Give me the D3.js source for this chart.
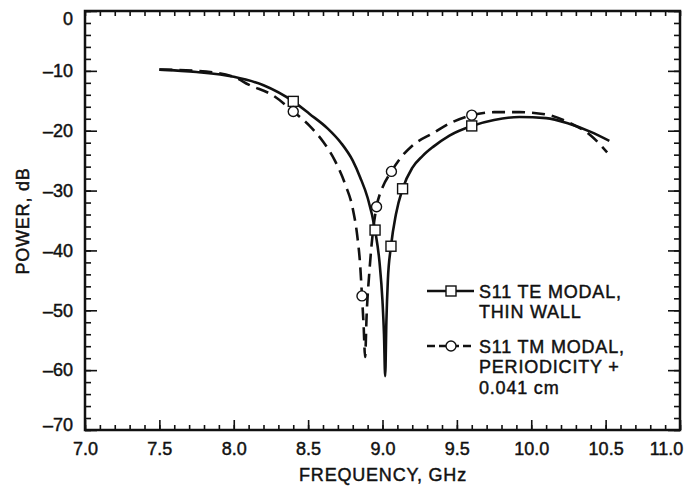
<!DOCTYPE html>
<html>
<head>
<meta charset="utf-8">
<script src="https://cdn.jsdelivr.net/npm/d3@7"></script>
<style>
  body { margin: 0; background: #fff; }
  svg { display: block; }
  text { font-family: "Liberation Sans", Arial, Helvetica, sans-serif; fill: #111; stroke: #111; stroke-width: 0.45px; }
</style>
</head>
<body>
<div id="chart"></div>
<script>
// S11 TE modal, thin wall (solid)
const teFreq = [7.5, 7.75, 8.0, 8.2, 8.4, 8.51, 8.63, 8.72, 8.8, 8.85, 8.9, 8.95, 8.98, 9.0, 9.01, 9.018,
    9.026, 9.036, 9.057, 9.09, 9.135, 9.2, 9.27, 9.34, 9.45, 9.6, 9.75, 9.92, 10.1, 10.25, 10.4, 10.525];
const tePower = [-9.8, -10.2, -11.0, -12.4, -15.1, -17.2, -19.6, -22.0, -25.0, -27.8, -31.2, -36.6, -42.0, -48.5, -54.0, -61.0,
    -52.0, -45.0, -39.3, -34.0, -29.7, -26.2, -24.2, -22.7, -20.8, -19.2, -18.2, -17.7, -17.9, -18.8, -20.2, -21.7];
const teMarkFreq = [8.4, 8.95, 9.057, 9.135, 9.6];
const teMarkPower = [-15.1, -36.6, -39.3, -29.7, -19.2];

// S11 TM modal, periodicity + 0.041 cm (dashed)
const tmFreq = [7.5, 7.75, 8.0, 8.1, 8.27, 8.4, 8.51, 8.6, 8.68, 8.75, 8.8, 8.83, 8.85, 8.862, 8.873, 8.883,
    8.893, 8.912, 8.935, 8.96, 9.0, 9.06, 9.12, 9.2, 9.34, 9.45, 9.6, 9.75, 9.92, 10.1, 10.25, 10.4, 10.51];
const tmPower = [-9.8, -10.0, -11.0, -12.3, -14.2, -16.8, -19.2, -21.8, -25.0, -29.0, -33.0, -37.5, -42.5, -47.6, -52.5, -57.8,
    -51.0, -43.5, -37.0, -32.7, -29.5, -26.8, -24.6, -22.5, -20.4, -18.8, -17.4, -16.9, -16.9, -17.3, -18.6, -20.8, -23.6];
const tmMarkFreq = [8.4, 8.862, 8.96, 9.06, 9.6];
const tmMarkPower = [-16.8, -47.6, -32.7, -26.8, -17.4];

const xTicks = [7.0, 7.5, 8.0, 8.5, 9.0, 9.5, 10.0, 10.5, 11.0];
const yTicks = [0, -10, -20, -30, -40, -50, -60, -70];
const legendLines = [
    ["S11 TE MODAL,", "THIN WALL"],
    ["S11 TM MODAL,", "PERIODICITY +", "0.041 cm"]
];

function makeScales() {
    const x = d3.scaleLinear().domain([7.0, 11.0]).range([85, 680]);
    const y = d3.scaleLinear().domain([0, -70]).range([11, 430]);
    return {x, y};
}

function minorValues(lo, hi, step) {
    const out = [];
    const n = Math.round((hi - lo) / step);
    for (let i = 0; i <= n; i++) out.push(+(lo + i * step).toFixed(3));
    return out;
}

function drawAxes(svg, s) {
    const fmtY = d => d === 0 ? "0" : "\u2013" + Math.abs(d);
    const fmtX = d => d.toFixed(1);
    const xMinor = minorValues(7.0, 11.0, 0.1);
    const yMinor = minorValues(-70, 0, 2);

    // minor ticks
    svg.append("g").attr("transform", "translate(0,430)")
        .call(d3.axisBottom(s.x).tickValues(xMinor).tickSize(-5).tickFormat(""));
    svg.append("g").attr("transform", "translate(0,11)")
        .call(d3.axisTop(s.x).tickValues(xMinor).tickSize(-5).tickFormat(""));
    svg.append("g").attr("transform", "translate(85,0)")
        .call(d3.axisLeft(s.y).tickValues(yMinor).tickSize(-6).tickFormat(""));
    svg.append("g").attr("transform", "translate(680,0)")
        .call(d3.axisRight(s.y).tickValues(yMinor).tickSize(-6).tickFormat(""));

    // major ticks + labels
    svg.append("g").attr("class", "xaxis").attr("transform", "translate(0,430)")
        .call(d3.axisBottom(s.x).tickValues(xTicks).tickSize(-10).tickPadding(12).tickFormat(fmtX));
    svg.append("g").attr("class", "yaxis").attr("transform", "translate(85,0)")
        .call(d3.axisLeft(s.y).tickValues(yTicks).tickSize(-12).tickPadding(12).tickFormat(fmtY));
    svg.append("g").attr("transform", "translate(680,0)")
        .call(d3.axisRight(s.y).tickValues(yTicks).tickSize(-12).tickFormat(""));

    svg.selectAll(".domain").remove();
    svg.selectAll(".tick line").attr("stroke", "#111").attr("stroke-width", 1.6);
    svg.selectAll(".tick text").style("font-size", "18px").attr("fill", "#111");
    // end labels sit a little inside the corners
    svg.selectAll(".yaxis .tick text").attr("dy", d => d === 0 ? "0.75em" : d === -70 ? "0.05em" : "0.32em");
    svg.selectAll(".xaxis .tick text").attr("dx", d => d === 11.0 ? -14 : 0);

    svg.append("rect")
        .attr("x", 85).attr("y", 11).attr("width", 595).attr("height", 419)
        .attr("fill", "none").attr("stroke", "#111").attr("stroke-width", 2.5);

    svg.append("text")
        .attr("x", 383).attr("y", 481)
        .attr("text-anchor", "middle")
        .style("font-size", "18px").style("letter-spacing", "0.8px")
        .text("FREQUENCY, GHz");
    svg.append("text")
        .attr("transform", "translate(29,221) rotate(-90)")
        .attr("text-anchor", "middle")
        .style("font-size", "18px").style("letter-spacing", "0.8px")
        .text("POWER, dB");
}

function drawSeries(svg, s) {
    const line = d3.line()
        .x(d => s.x(d[0]))
        .y(d => s.y(d[1]))
        .curve(d3.curveMonotoneX);
    const te = d3.zip(teFreq, tePower);
    const tm = d3.zip(tmFreq, tmPower);

    svg.append("path").datum(tm)
        .attr("d", line).attr("fill", "none")
        .attr("stroke", "#111").attr("stroke-width", 2.6)
        .attr("stroke-dasharray", "13,7");
    svg.append("path").datum(te)
        .attr("d", line).attr("fill", "none")
        .attr("stroke", "#111").attr("stroke-width", 2.6);

    svg.append("g").selectAll("rect")
        .data(d3.zip(teMarkFreq, teMarkPower))
        .enter().append("rect")
        .attr("x", d => s.x(d[0]) - 5).attr("y", d => s.y(d[1]) - 5)
        .attr("width", 10).attr("height", 10)
        .attr("fill", "#fff").attr("stroke", "#111").attr("stroke-width", 1.4);
    svg.append("g").selectAll("circle")
        .data(d3.zip(tmMarkFreq, tmMarkPower))
        .enter().append("circle")
        .attr("cx", d => s.x(d[0])).attr("cy", d => s.y(d[1]))
        .attr("r", 5)
        .attr("fill", "#fff").attr("stroke", "#111").attr("stroke-width", 1.4);
}

function drawLegend(svg) {
    const rows = [{y: 291, dash: null}, {y: 346, dash: "8,4"}];
    rows.forEach((r, i) => {
        const g = svg.append("g");
        g.append("line")
            .attr("x1", 427).attr("x2", 474).attr("y1", r.y).attr("y2", r.y)
            .attr("stroke", "#111").attr("stroke-width", 2.6)
            .attr("stroke-dasharray", r.dash);
        if (i === 0) {
            g.append("rect").attr("x", 446).attr("y", r.y - 5).attr("width", 10).attr("height", 10)
                .attr("fill", "#fff").attr("stroke", "#111").attr("stroke-width", 1.4);
        } else {
            g.append("circle").attr("cx", 451).attr("cy", r.y).attr("r", 5)
                .attr("fill", "#fff").attr("stroke", "#111").attr("stroke-width", 1.4);
        }
        const t = g.append("text").attr("x", 479).attr("y", r.y + 6.5)
            .style("font-size", "18px").style("letter-spacing", "0.8px");
        legendLines[i].forEach((s, k) => {
            t.append("tspan").attr("x", 479).attr("dy", k === 0 ? 0 : 20.5).text(s);
        });
    });
}

const svg = d3.select("#chart").append("svg")
    .attr("width", 685).attr("height", 488);
const scales = makeScales();
drawAxes(svg, scales);
drawSeries(svg, scales);
drawLegend(svg);
</script>
</body>
</html>
